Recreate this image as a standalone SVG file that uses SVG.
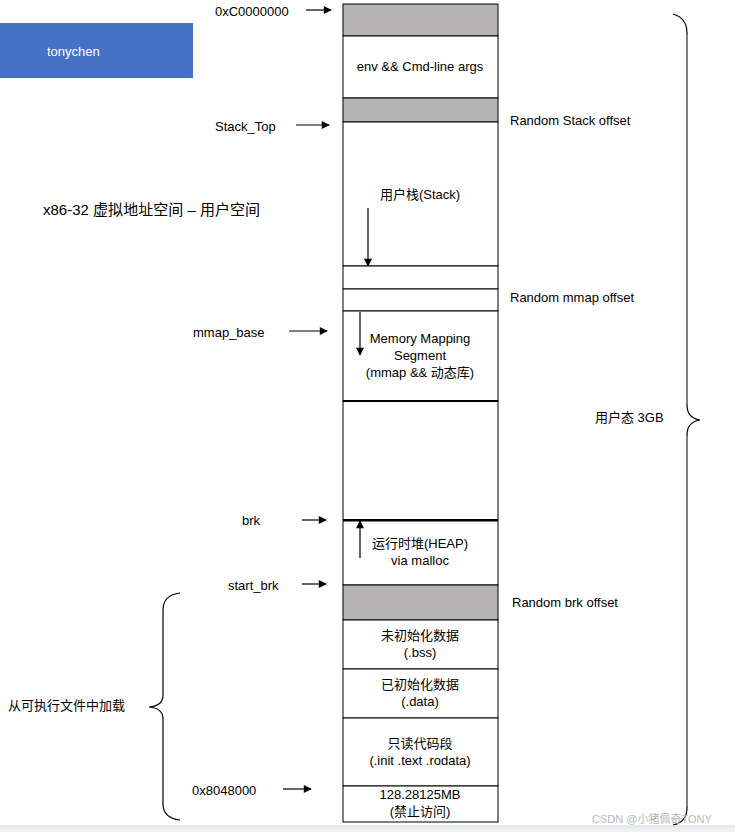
<svg xmlns="http://www.w3.org/2000/svg" width="735" height="832" viewBox="0 0 735 832">
<style>
text{font-family:"Liberation Sans","Noto Sans CJK SC",sans-serif;font-size:13px;fill:#000}
.c{text-anchor:middle}
.box{fill:#fff;stroke:#000;stroke-width:1}
.gray{fill:#b5b3b3;stroke:#000;stroke-width:1}
.arr{stroke:#000;stroke-width:1.2;fill:none;marker-end:url(#ah)}
.brace{fill:none;stroke:#000;stroke-width:1.2}
</style>
<defs>
<marker id="ah" viewBox="0 0 10 10" refX="9" refY="5" markerWidth="9" markerHeight="8" markerUnits="userSpaceOnUse" orient="auto">
<path d="M0,0 L10,5 L0,10 z" fill="#000"/>
</marker>
</defs>
<rect width="735" height="832" fill="#fff"/>

<g id="banner">
<rect x="0" y="23" width="193" height="55" fill="#4472c4"/>
<text x="47" y="56" style="fill:#fff">tonychen</text>
</g>

<text x="43" y="215" style="font-size:14.5px" textLength="217" lengthAdjust="spacingAndGlyphs">x86-32 虚拟地址空间 – 用户空间</text>

<g id="seg-top-gap"><rect class="gray" x="343" y="4" width="155" height="32"/></g>
<g id="seg-env"><rect class="box" x="343" y="36" width="155" height="62"/><text class="c" x="420" y="71">env &amp;&amp; Cmd-line args</text></g>
<g id="seg-stack-offset"><rect class="gray" x="343" y="98" width="155" height="24"/></g>
<g id="seg-stack"><rect class="box" x="343" y="122" width="155" height="144"/><text class="c" x="420" y="199">用户栈(Stack)</text></g>
<g id="seg-gap1"><rect class="box" x="343" y="266" width="155" height="23"/></g>
<g id="seg-mmap-offset"><rect class="box" x="343" y="289" width="155" height="22"/></g>
<g id="seg-mmap"><rect class="box" x="343" y="311" width="155" height="90"/>
<text class="c" x="420" y="343">Memory Mapping</text>
<text class="c" x="420" y="360">Segment</text>
<text class="c" x="420" y="377">(mmap &amp;&amp; 动态库)</text></g>
<g id="seg-free"><rect class="box" x="343" y="401" width="155" height="119"/>
<line x1="343" y1="401" x2="498" y2="401" stroke="#000" stroke-width="2"/>
<line x1="343" y1="520" x2="498" y2="520" stroke="#000" stroke-width="2"/></g>
<g id="seg-heap"><rect class="box" x="343" y="521" width="155" height="64"/>
<text class="c" x="420" y="548">运行时堆(HEAP)</text>
<text class="c" x="420" y="565">via malloc</text></g>
<g id="seg-brk-offset"><rect class="gray" x="343" y="585" width="155" height="35"/></g>
<g id="seg-bss"><rect class="box" x="343" y="620" width="155" height="49"/>
<text class="c" x="420" y="640">未初始化数据</text><text class="c" x="420" y="657">(.bss)</text></g>
<g id="seg-data"><rect class="box" x="343" y="669" width="155" height="49"/>
<text class="c" x="420" y="689">已初始化数据</text><text class="c" x="420" y="706">(.data)</text></g>
<g id="seg-text"><rect class="box" x="343" y="718" width="155" height="68"/>
<text class="c" x="420" y="748">只读代码段</text><text class="c" x="420" y="765">(.init .text .rodata)</text></g>
<g id="seg-null"><rect class="box" x="343" y="786" width="155" height="36"/>
<text class="c" x="420" y="799">128.28125MB</text><text class="c" x="420" y="816">(禁止访问)</text></g>

<g id="labels">
<text x="215" y="16">0xC0000000</text>
<text x="215" y="131">Stack_Top</text>
<text x="510" y="125">Random Stack offset</text>
<text x="510" y="302">Random mmap offset</text>
<text x="193" y="337">mmap_base</text>
<text x="595" y="422">用户态 3GB</text>
<text x="242" y="525">brk</text>
<text x="228" y="590">start_brk</text>
<text x="512" y="607">Random brk offset</text>
<text x="8" y="710">从可执行文件中加载</text>
<text x="192" y="795">0x8048000</text>
</g>

<g id="connectors">
<line class="arr" x1="306" y1="10" x2="331" y2="10"/>
<line class="arr" x1="296" y1="125" x2="329" y2="125"/>
<line class="arr" x1="289" y1="331" x2="327" y2="331"/>
<line class="arr" x1="302" y1="520" x2="326" y2="520"/>
<line class="arr" x1="302" y1="584" x2="326" y2="584"/>
<line class="arr" x1="283" y1="789" x2="311" y2="789"/>
<line class="arr" x1="368" y1="208" x2="368" y2="266"/>
<line class="arr" x1="360" y1="312" x2="360" y2="355"/>
<line class="arr" x1="360" y1="558" x2="360" y2="521"/>
</g>

<g id="brace-right">
<path class="brace" d="M673,14 Q687,18 687,33 L687,405 Q687,418 700,420 Q687,422 687,435 L687,808 Q687,822 673,825"/>
<line x1="687" y1="35" x2="687" y2="404" stroke="#808080" stroke-width="2"/>
<line x1="687" y1="436" x2="687" y2="806" stroke="#808080" stroke-width="2"/>
</g>
<g id="brace-left">
<path class="brace" d="M180,593 Q163,595 163,610 L163,695 Q163,706 149,707 Q163,708 163,719 L163,804 Q163,818 180,820"/>
</g>

<text x="592" y="823" style="font-size:11px;fill:#b8b8b8">CSDN @小猪佩奇TONY</text>
<rect x="0" y="826" width="735" height="6" fill="#eceef1"/>
<line x1="0" y1="826" x2="735" y2="826" stroke="#d6d8dc" stroke-width="1"/>
</svg>
